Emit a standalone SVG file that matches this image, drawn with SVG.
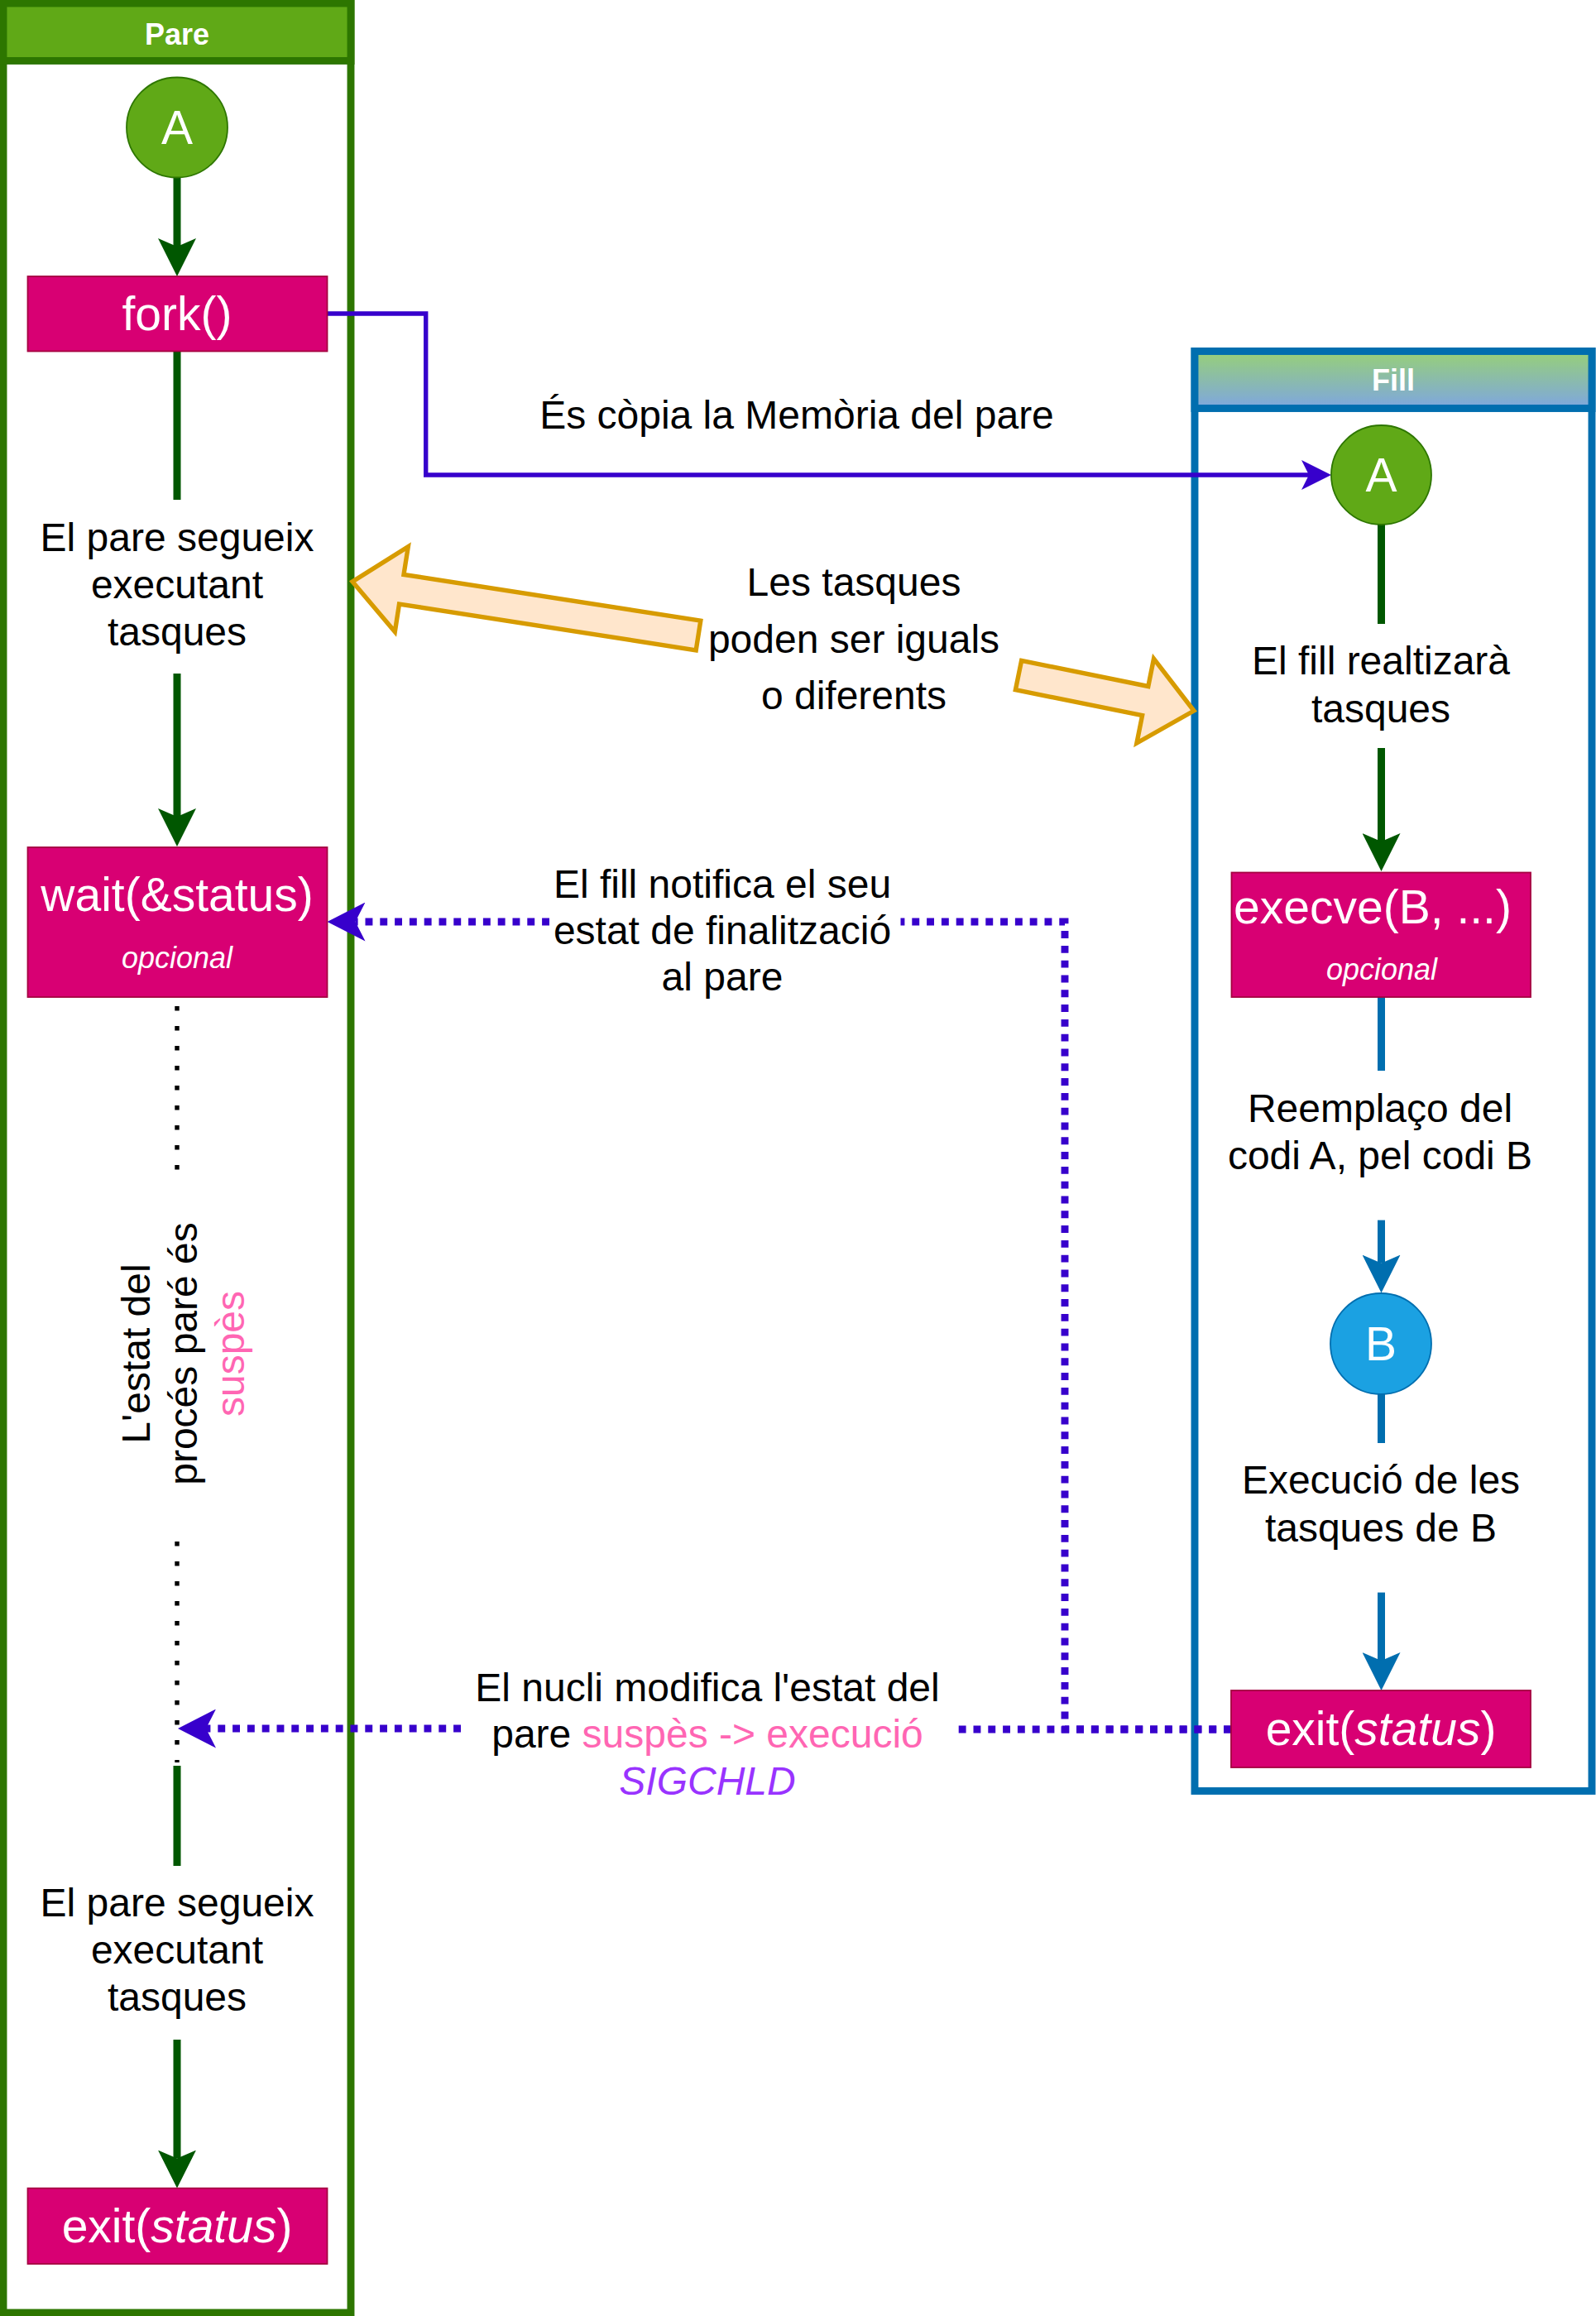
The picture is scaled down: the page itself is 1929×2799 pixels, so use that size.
<svg xmlns="http://www.w3.org/2000/svg" width="1929" height="2799" viewBox="0 0 1929 2799">
<style>
text{font-family:"Liberation Sans",Arial,Helvetica,sans-serif}
.lbl{font-size:48px;fill:#000;text-anchor:middle}
.hdr{font-size:36px;font-weight:bold;fill:#fff;text-anchor:middle}
.big{font-size:57px;fill:#fff;text-anchor:middle}
.opt{font-size:36px;font-style:italic;fill:#fff;text-anchor:middle}
.pink{fill:#FF66B3}
.box{fill:#D80073;stroke:#A50040;stroke-width:1.8}
.gc{fill:#60A917;stroke:#2D7600;stroke-width:1.8}
.bc{fill:#1BA1E2;stroke:#006EAF;stroke-width:1.8}
.lane{fill:#fff;stroke-width:8.9}
.g{fill:none;stroke:#005700;stroke-width:9}
.b{fill:none;stroke:#006EAF;stroke-width:9}
.fk{fill:none;stroke:#3700CC;stroke-width:5.4}
.dot{fill:none;stroke:#3700CC;stroke-width:8.9;stroke-dasharray:8.9 8.9}
.blk{fill:none;stroke:#000;stroke-width:5.4;stroke-dasharray:5.4 18.6}
.fa{fill:#FFE6CC;stroke:#D79B00;stroke-width:5.4;stroke-linejoin:miter}
</style>
<defs>
<linearGradient id="fillHdr" x1="0" y1="0" x2="0" y2="1">
<stop offset="0" stop-color="#97D077"/>
<stop offset="1" stop-color="#7EA6E0"/>
</linearGradient>
<marker id="ag" markerUnits="userSpaceOnUse" markerWidth="46" markerHeight="46" refX="10" refY="23" orient="auto">
<path d="M0,0 L46,23 L0,46 L10,23 Z" fill="#005700"/>
</marker>
<marker id="ab" markerUnits="userSpaceOnUse" markerWidth="46" markerHeight="46" refX="10" refY="23" orient="auto">
<path d="M0,0 L46,23 L0,46 L10,23 Z" fill="#006EAF"/>
</marker>
<marker id="af" markerUnits="userSpaceOnUse" markerWidth="36" markerHeight="36" refX="9" refY="18" orient="auto">
<path d="M0,0 L36,18 L0,36 L9,18 Z" fill="#3700CC"/>
</marker>
<marker id="ad" markerUnits="userSpaceOnUse" markerWidth="46" markerHeight="47" refX="12" refY="23.5" orient="auto">
<path d="M0,0 L46,23.5 L0,47 L12,23.5 Z" fill="#3700CC"/>
</marker>
</defs>
<rect width="1929" height="2799" fill="#fff"/>

<g id="lane-pare">
<rect class="lane" x="4" y="4" width="420" height="2791" stroke="#2D7600"/>
<rect x="4" y="4" width="420" height="69.5" fill="#60A917" stroke="#2D7600" stroke-width="8.9"/>
<text class="hdr" x="214" y="53.5">Pare</text>
</g>

<g id="lane-fill">
<rect class="lane" x="1444" y="424.5" width="480" height="1740" stroke="#006EAF"/>
<rect x="1444" y="424.5" width="480" height="69" fill="url(#fillHdr)" stroke="#006EAF" stroke-width="8.9"/>
<text class="hdr" x="1684" y="472">Fill</text>
</g>

<g id="connectors">
<path class="g" d="M214,214 V298" marker-end="url(#ag)"/>
<path class="g" d="M214,424.5 V604"/>
<path class="g" d="M214,814 V987" marker-end="url(#ag)"/>
<path class="blk" d="M214,1216 V1414"/>
<path class="blk" d="M214,1863 V2130"/>
<path class="g" d="M214,2134 V2255"/>
<path class="g" d="M214,2465 V2608.6" marker-end="url(#ag)"/>
<path class="fk" d="M395.5,379 H514.7 V574 H1582" marker-end="url(#af)"/>
<path class="g" d="M1669.5,634 V754"/>
<path class="g" d="M1669.5,904 V1017" marker-end="url(#ag)"/>
<path class="b" d="M1669.5,1205 V1294"/>
<path class="b" d="M1669.5,1474.6 V1526.6" marker-end="url(#ab)"/>
<path class="b" d="M1669.5,1685 V1744"/>
<path class="b" d="M1669.5,1924.6 V2007" marker-end="url(#ab)"/>
<path class="dot" d="M1488,2090 H1287 V1114 H1088.5"/>
<path class="dot" d="M664,1114 H429.5" marker-end="url(#ad)"/>
<path class="dot" d="M1488,2090 H1156"/>
<path class="dot" d="M557,2089 H249" marker-end="url(#ad)"/>
<polygon class="fa" points="846.8,750.2 488,694.4 493.3,660.8 426,703 477.3,763.6 482.5,730 841.2,785.8"/>
<polygon class="fa" points="1234.6,798.4 1387.8,829.5 1394.5,796.1 1443,859 1373.9,898.1 1380.6,864.7 1227.4,833.6"/>
<text class="lbl" x="963" y="518">És còpia la Memòria del pare</text>
<text class="lbl" x="1032"><tspan x="1032" y="720">Les tasques</tspan><tspan x="1032" y="788.6">poden ser iguals</tspan><tspan x="1032" y="857">o diferents</tspan></text>
<text class="lbl" x="873"><tspan x="873" y="1085">El fill notifica el seu</tspan><tspan x="873" y="1141">estat de finalització</tspan><tspan x="873" y="1197">al pare</tspan></text>
<text class="lbl" x="855"><tspan x="855" y="2055.5">El nucli modifica l'estat del</tspan><tspan x="855" y="2112">pare <tspan class="pink">suspès -&gt; execució</tspan></tspan><tspan x="855" y="2169" fill="#9933FF" font-style="italic">SIGCHLD</tspan></text>
</g>

<g id="pare-A">
<ellipse class="gc" cx="214" cy="154" rx="61" ry="60.5"/>
<text class="big" x="214" y="174">A</text>
</g>
<g id="pare-fork">
<rect class="box" x="33.5" y="334" width="362" height="90.5"/>
<text class="big" x="214" y="399">fork()</text>
</g>
<g id="pare-text1">
<text class="lbl"><tspan x="214" y="666">El pare segueix</tspan><tspan x="214" y="723">executant</tspan><tspan x="214" y="780">tasques</tspan></text>
</g>
<g id="pare-wait">
<rect class="box" x="33.5" y="1024" width="362" height="181"/>
<text class="big" x="214" y="1101">wait(&amp;status)</text>
<text class="opt" x="214" y="1170">opcional</text>
</g>
<g id="pare-suspes">
<text class="lbl" transform="translate(0,1636) rotate(-90)"><tspan x="0" y="181">L'estat del</tspan><tspan x="0" y="238">procés paré és</tspan><tspan x="0" y="295" class="pink">suspès</tspan></text>
</g>
<g id="pare-text2">
<text class="lbl"><tspan x="214" y="2316">El pare segueix</tspan><tspan x="214" y="2373">executant</tspan><tspan x="214" y="2430">tasques</tspan></text>
</g>
<g id="pare-exit">
<rect class="box" x="33.5" y="2644.6" width="362" height="91.4"/>
<text class="big" x="214" y="2710">exit(<tspan font-style="italic">status</tspan>)</text>
</g>

<g id="fill-A">
<ellipse class="gc" cx="1669.5" cy="574" rx="60.5" ry="60"/>
<text class="big" x="1669.5" y="594">A</text>
</g>
<g id="fill-text1">
<text class="lbl"><tspan x="1669" y="815">El fill realtizarà</tspan><tspan x="1669" y="872.5">tasques</tspan></text>
</g>
<g id="fill-execve">
<rect class="box" x="1488.5" y="1054.5" width="361.5" height="150.5"/>
<text class="big" x="1659" y="1116">execve(B, ...)</text>
<text class="opt" x="1670" y="1184">opcional</text>
</g>
<g id="fill-text2">
<text class="lbl"><tspan x="1668" y="1356">Reemplaço del</tspan><tspan x="1668" y="1413">codi A, pel codi B</tspan></text>
</g>
<g id="fill-B">
<circle class="bc" cx="1669" cy="1624" r="61"/>
<text class="big" x="1669" y="1644">B</text>
</g>
<g id="fill-text3">
<text class="lbl"><tspan x="1669" y="1805">Execució de les</tspan><tspan x="1669" y="1862.6">tasques de B</tspan></text>
</g>
<g id="fill-exit">
<rect class="box" x="1488" y="2043" width="362" height="93"/>
<text class="big" x="1669" y="2109">exit(<tspan font-style="italic">status</tspan>)</text>
</g>
</svg>
